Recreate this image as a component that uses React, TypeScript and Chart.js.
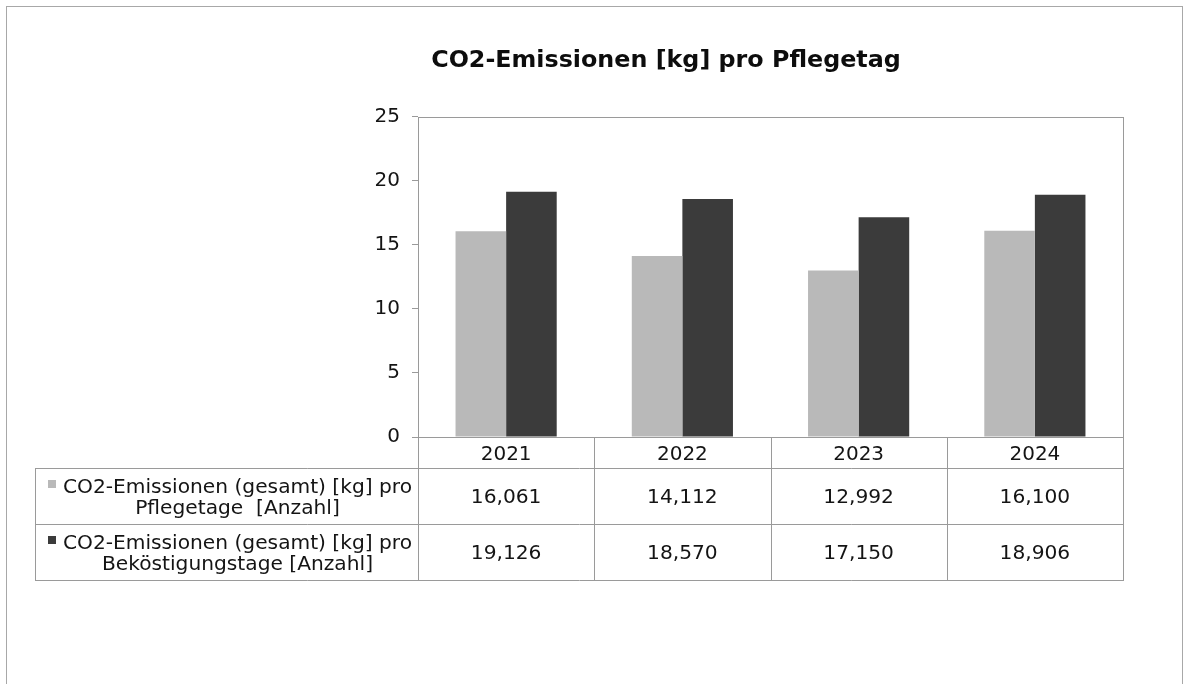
import React, { useEffect, useRef } from "react";
import { Chart, registerables } from "chart.js";

Chart.register(...registerables);

const TITLE = "CO2-Emissionen [kg] pro Pflegetag";
const YEARS = ["2021", "2022", "2023", "2024"];
const PFLEGETAGE = [16.061, 14.112, 12.992, 16.1];
const BEKOESTIGUNG = [19.126, 18.57, 17.15, 18.906];
const SERIES_A_LINES = ["CO2-Emissionen (gesamt) [kg] pro", "Pflegetage  [Anzahl]"];
const SERIES_B_LINES = ["CO2-Emissionen (gesamt) [kg] pro", "Beköstigungstage [Anzahl]"];
const Y_MIN = 0;
const Y_MAX = 25;
const Y_STEP = 5;

const FONT = "'DejaVu Sans', Verdana, sans-serif";
const TEXT = "#141414";
const LINE = "#9a9a9a";
const LIGHT = "#b9b9b9";
const DARK = "#3b3b3b";

const fmt = (v: number) => v.toFixed(3).replace(".", ",");

const tablePlugin = {
  id: "dataTable",
  beforeDraw(chart: any) {
    const ctx = chart.ctx;
    ctx.save();
    ctx.fillStyle = "#ffffff";
    ctx.fillRect(0, 0, chart.width, chart.height);
    ctx.strokeStyle = "#a8a8a8";
    ctx.lineWidth = 1;
    ctx.strokeRect(6.5, 6.5, chart.width - 10, chart.height + 20);
    ctx.restore();
  },
  afterDraw(chart: any) {
    const ctx = chart.ctx;
    const { left, right, top, bottom } = chart.chartArea;
    const xs = chart.scales.x;
    const n = YEARS.length;
    const w = (right - left) / n;
    const tableLeft = 35;
    const yearBottom = bottom + 31;
    const rowH = 56;
    const rows = [
      { lines: SERIES_A_LINES, values: PFLEGETAGE, color: LIGHT },
      { lines: SERIES_B_LINES, values: BEKOESTIGUNG, color: DARK },
    ];
    const tableBottom = yearBottom + rowH * rows.length;
    ctx.save();
    ctx.strokeStyle = LINE;
    ctx.lineWidth = 1;
    ctx.strokeRect(Math.round(left) + 0.5, Math.round(top) + 0.5, Math.round(right - left), Math.round(bottom - top));
    for (let i = 0; i <= n; i++) {
      const x = Math.round(left + i * w) + 0.5;
      ctx.beginPath();
      ctx.moveTo(x, bottom);
      ctx.lineTo(x, tableBottom + 0.5);
      ctx.stroke();
    }
    ctx.beginPath();
    ctx.moveTo(tableLeft + 0.5, yearBottom);
    ctx.lineTo(tableLeft + 0.5, tableBottom + 0.5);
    ctx.stroke();
    for (let r = 0; r <= rows.length; r++) {
      const y = Math.round(yearBottom + r * rowH) + 0.5;
      ctx.beginPath();
      ctx.moveTo(tableLeft, y);
      ctx.lineTo(Math.round(right) + 1, y);
      ctx.stroke();
    }
    ctx.fillStyle = TEXT;
    ctx.font = `20.2px ${FONT}`;
    ctx.textBaseline = "alphabetic";
    const labelCenter = tableLeft + (left - tableLeft) / 2 + 11;
    rows.forEach((row, r) => {
      const rowTop = yearBottom + r * rowH;
      ctx.textAlign = "center";
      ctx.fillStyle = TEXT;
      ctx.fillText(row.lines[0], labelCenter, rowTop + 25);
      ctx.fillText(row.lines[1], labelCenter, rowTop + 46);
      const tw = ctx.measureText(row.lines[0]).width;
      const start = labelCenter - tw / 2;
      ctx.fillStyle = row.color;
      ctx.fillRect(Math.round(start - 15), Math.round(rowTop + 12), 8, 8);
      ctx.fillStyle = TEXT;
      row.values.forEach((v, i) => {
        ctx.fillText(fmt(v), xs.getPixelForValue(i), rowTop + 35);
      });
    });
    ctx.restore();
  },
};

export default function App() {
  const ref = useRef<HTMLCanvasElement | null>(null);
  useEffect(() => {
    if (!ref.current) return;
    const chart = new Chart(ref.current, {
      type: "bar",
      data: {
        labels: YEARS,
        datasets: [
          {
            label: SERIES_A_LINES.join(" "),
            data: PFLEGETAGE,
            backgroundColor: LIGHT,
            barPercentage: 1,
            categoryPercentage: 0.574,
          },
          {
            label: SERIES_B_LINES.join(" "),
            data: BEKOESTIGUNG,
            backgroundColor: DARK,
            barPercentage: 1,
            categoryPercentage: 0.574,
          },
        ],
      },
      options: {
        animation: false,
        responsive: false,
        maintainAspectRatio: false,
        layout: { padding: { left: 209, right: 63, top: 0, bottom: 216 } },
        plugins: {
          legend: { display: false },
          tooltip: { enabled: false },
          title: {
            display: true,
            text: TITLE,
            color: "#0d0d0d",
            font: { family: FONT, size: 23.8, weight: "bold" },
            padding: { top: 47, bottom: 41 },
          },
        },
        scales: {
          x: {
            afterFit: (s: any) => {
              s.height = 31;
            },
            grid: { display: false, drawTicks: false },
            border: { display: false },
            ticks: { color: TEXT, font: { family: FONT, size: 20 }, padding: 6 },
          },
          y: {
            min: Y_MIN,
            max: Y_MAX,
            afterFit: (s: any) => {
              s.width = 209;
            },
            grid: { drawOnChartArea: false, drawTicks: true, tickLength: 6, color: LINE },
            border: { display: false },
            ticks: { stepSize: Y_STEP, color: TEXT, font: { family: FONT, size: 20 }, padding: 12 },
          },
        },
      },
      plugins: [tablePlugin],
    });
    return () => chart.destroy();
  }, []);
  return (
    <div style={{ position: "absolute", left: 0, top: 0, width: 1186, height: 684, background: "#fff" }}>
      <canvas ref={ref} width={1186} height={684} style={{ display: "block" }} />
    </div>
  );
}
